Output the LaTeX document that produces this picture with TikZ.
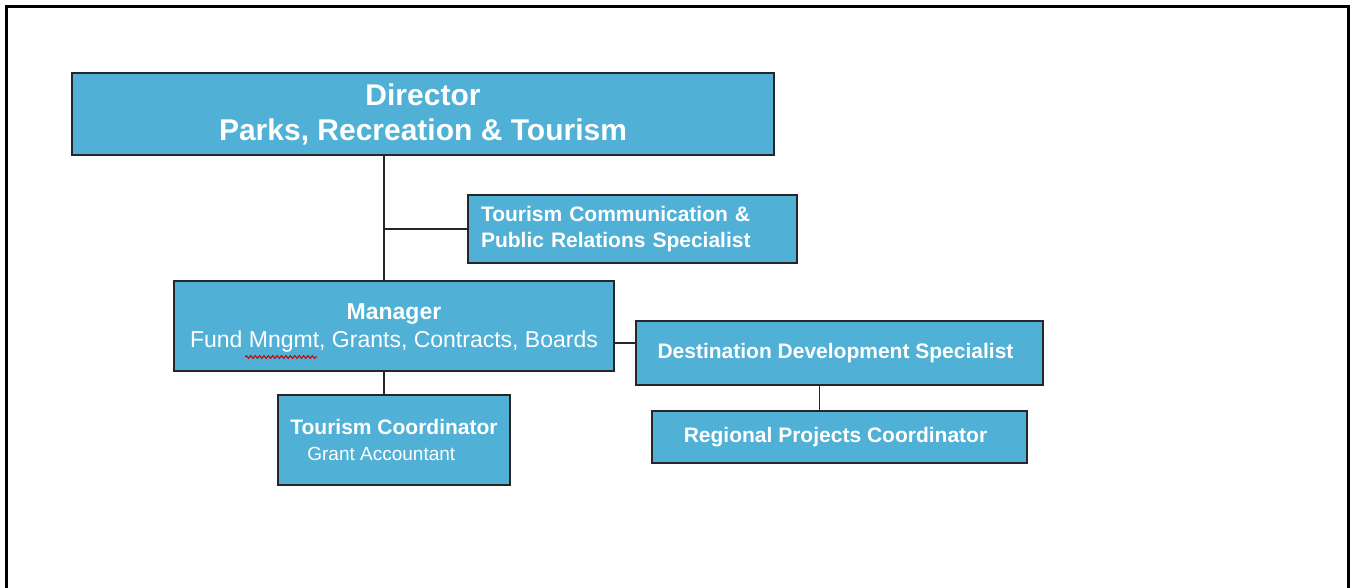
\documentclass[tikz,border=0pt]{standalone}
\usepackage{fontspec}
\setmainfont{Liberation Sans}
\usetikzlibrary{decorations.pathmorphing}
\definecolor{boxblue}{RGB}{80,176,214}
\tikzset{link/.style={line width=0.75pt, black!85}}
\tikzset{post/.style={draw=black!85, line width=0.9pt, fill=boxblue, text=white, inner sep=0pt, align=center}}
\tikzset{head/.style={post, font=\bfseries\fontsize{15}{17.5}\selectfont}}
\tikzset{staff/.style={post, font=\bfseries\fontsize{10.5}{13}\selectfont}}
\begin{document}
\begin{tikzpicture}[x=0.5pt, y=-0.5pt]
\useasboundingbox (0,0) rectangle (1351,588);
\begin{scope}
\clip (0,0) rectangle (1351,588);
\draw[line width=1.5pt] (6.5,6.5) rectangle (1348.5,620);
\end{scope}
\node[head, minimum width=351pt, minimum height=41pt] (director) at (423,114) {Director\\Parks, Recreation \& Tourism};
\node[staff, minimum height=34pt, text width=151.5pt, inner xsep=6.5pt, align=left] (comm) at (632.5,229) {Tourism Communication \&\\Public Relations Specialist};
\node[post, minimum width=220pt, minimum height=45pt, text depth=-2pt, font=\fontsize{11.5}{14}\selectfont] (manager) at (394,326) {\textbf{Manager}\\Fund Mngmt, Grants, Contracts, Boards};
\node[staff, minimum width=203.5pt, minimum height=32pt] (dest) at (839.5,353) {Destination Development Specialist\hspace*{4pt}};
\node[staff, minimum width=187.5pt, minimum height=26pt] (regional) at (839.5,437) {Regional Projects Coordinator\hspace*{4pt}};
\node[staff, minimum width=116pt, minimum height=45pt, align=left] (coord) at (394,440) {Tourism Coordinator\\\hspace*{8.5pt}{\mdseries\fontsize{9.5}{12.5}\selectfont Grant Accountant}};
% spell-check mark
\draw[red!80!black, line width=0.5pt, decorate, decoration={snake, amplitude=0.7pt, segment length=2.2pt}] (245,357) -- (317,357);
% connectors
\coordinate (spine) at ([xshift=-5pt]manager.north);
\draw[link] (spine |- director.south) -- (spine);
\draw[link] (comm.west) -- (comm.west -| spine);
\draw[link] (manager.south -| spine) -- (coord.north -| spine);
\draw[link] ([yshift=-8.5pt]manager.east) -- ([yshift=-8.5pt]manager.east -| dest.west);
\draw[link] ([xshift=-10pt]dest.south) -- ([xshift=-10pt]regional.north);
\end{tikzpicture}
\end{document}
